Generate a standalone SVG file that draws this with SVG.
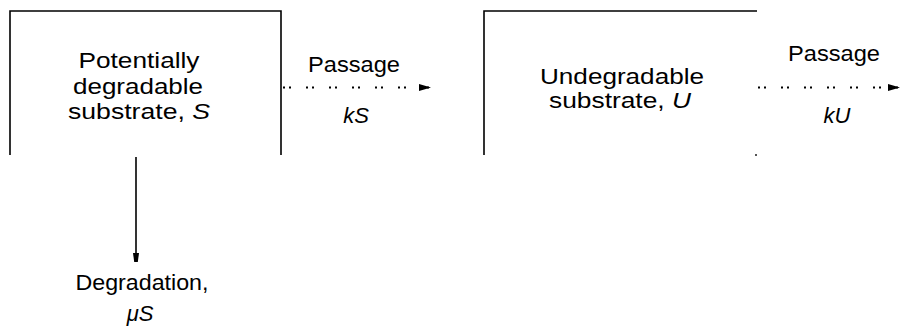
<svg xmlns="http://www.w3.org/2000/svg" width="900" height="327" viewBox="0 0 900 327">
  <defs>
    <style>
      text { font-family: "Liberation Sans", Arial, sans-serif; font-size: 22px; fill: #000; }
      .box { fill: none; stroke: #000; stroke-width: 1.6; }
      .flow { fill: none; stroke: #000; stroke-width: 2; stroke-dasharray: 2 4 2 15; }
      .solid { fill: none; stroke: #000; stroke-width: 1.6; }
      .sym { font-style: italic; }
    </style>
    <marker id="head" viewBox="0 0 10 10" preserveAspectRatio="none" refX="10" refY="5" markerWidth="12" markerHeight="7" markerUnits="userSpaceOnUse" orient="auto">
      <path d="M0,0 L10,5 L0,10 Z" fill="#000"/>
    </marker>
    <marker id="headDown" viewBox="0 0 10 10" preserveAspectRatio="none" refX="10" refY="5" markerWidth="9" markerHeight="6" markerUnits="userSpaceOnUse" orient="auto">
      <path d="M0,0 L10,2 L10,8 L0,10 Z" fill="#000"/>
    </marker>
  </defs>

  <!-- Pool of potentially degradable substrate -->
  <g id="node-S">
    <path class="box" d="M10,155 V11 H281 V155"/>
    <text x="139" y="67.5" text-anchor="middle" textLength="121" lengthAdjust="spacingAndGlyphs">Potentially</text>
    <text x="138" y="93.5" text-anchor="middle" textLength="130" lengthAdjust="spacingAndGlyphs">degradable</text>
    <text x="139" y="119" text-anchor="middle" textLength="142" lengthAdjust="spacingAndGlyphs">substrate, <tspan class="sym">S</tspan></text>
  </g>

  <!-- Pool of undegradable substrate -->
  <g id="node-U">
    <path class="box" d="M484,155 V11 H757"/>
    <rect x="755" y="154" width="2" height="2" fill="#555"/>
    <text x="622" y="83.5" text-anchor="middle" textLength="164" lengthAdjust="spacingAndGlyphs">Undegradable</text>
    <text x="620" y="108" text-anchor="middle" textLength="142" lengthAdjust="spacingAndGlyphs">substrate, <tspan class="sym">U</tspan></text>
  </g>

  <!-- Outflow labels -->
  <g id="label-passage-S">
    <text x="354" y="72" text-anchor="middle" textLength="92" lengthAdjust="spacingAndGlyphs">Passage</text>
    <text x="356" y="123" text-anchor="middle" class="sym">kS</text>
  </g>
  <g id="label-passage-U">
    <text x="834" y="61" text-anchor="middle" textLength="92" lengthAdjust="spacingAndGlyphs">Passage</text>
    <text x="837" y="123" text-anchor="middle" class="sym">kU</text>
  </g>
  <g id="label-degradation">
    <text x="142" y="290" text-anchor="middle" textLength="133" lengthAdjust="spacingAndGlyphs">Degradation,</text>
    <text x="140" y="321" text-anchor="middle" class="sym">μS</text>
  </g>

  <!-- Connectors -->
  <g id="connectors">
    <line class="flow" x1="283" y1="87.5" x2="431" y2="87.5" marker-end="url(#head)"/>
    <line class="flow" x1="758" y1="87.5" x2="900" y2="87.5" marker-end="url(#head)"/>
    <line class="solid" x1="136" y1="157" x2="136" y2="262" marker-end="url(#headDown)"/>
  </g>
</svg>
